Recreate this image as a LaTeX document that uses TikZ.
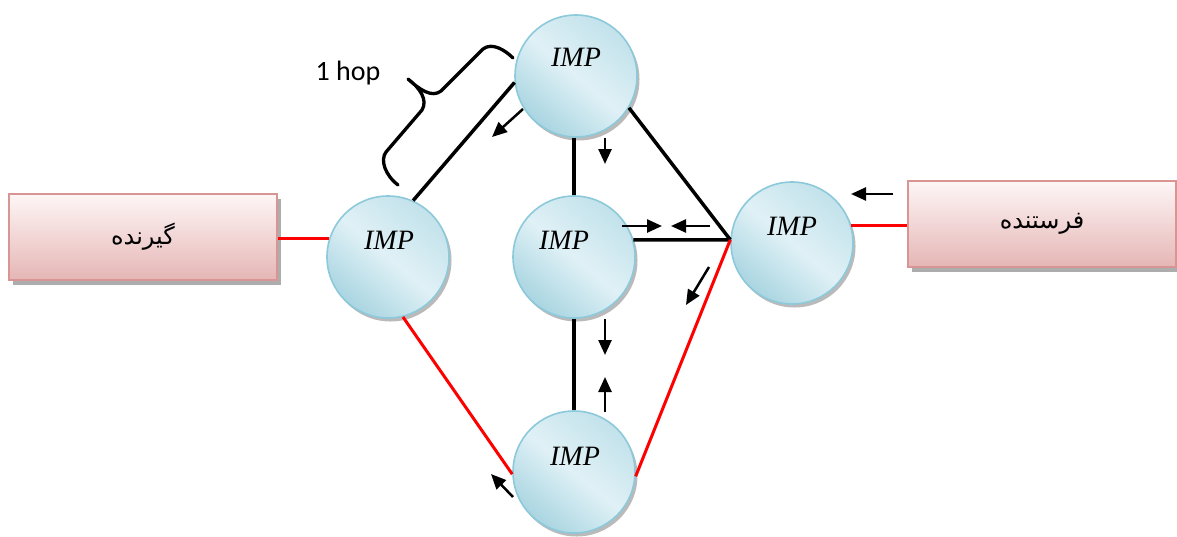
\documentclass[tikz,border=0pt]{standalone}
\usepackage{fontspec}
\newfontfamily\arabicfont[Script=Arabic]{DejaVu Sans}
\newfontfamily\hopfont{Carlito}
\newfontfamily\impfont{Liberation Serif}
\TeXXeTstate=1
\usetikzlibrary{shadows,arrows.meta}
\definecolor{cborder}{HTML}{8CC9DA}
\definecolor{clight}{HTML}{E0F1F6}
\definecolor{cdark}{HTML}{A9D5E1}
\definecolor{bborder}{HTML}{D89593}
\definecolor{btop}{HTML}{FEF6F6}
\definecolor{bbot}{HTML}{E5B6B5}
\definecolor{cred}{HTML}{FF0000}
\begin{document}
\begin{tikzpicture}[x=1pt,y=-1pt,
  imp/.style={circle, minimum size=122pt, inner sep=0pt, draw=cborder, line width=1.6pt,
    top color=cdark!55!clight, bottom color=cdark, middle color=clight, shading angle=-40,
    drop shadow={shadow xshift=2.5pt, shadow yshift=-3.5pt, fill=black!45, opacity=0.6}},
  implbl/.style={font=\impfont\itshape\fontsize{28}{30}\selectfont},
  boxst/.style={rectangle, draw=bborder, line width=1.6pt, minimum width=268pt, minimum height=86pt,
    top color=btop, bottom color=bbot,
    drop shadow={shadow xshift=4pt, shadow yshift=-5pt, fill=black!40, opacity=0.8}},
  blk/.style={line width=3.5pt, black},
  redl/.style={line width=3pt, cred},
  arr/.style={line width=2.5pt, -{Triangle[length=15pt,width=13pt]}}]
\useasboundingbox (0,0) rectangle (1177,536);

% boxes
\node[boxst] (lbox) at (143,237) {\arabicfont\fontsize{24}{28}\selectfont\beginR گیرنده\endR};
\node[boxst] (rbox) at (1042,224) {\arabicfont\fontsize{24}{28}\selectfont\beginR فرستنده\endR};

% circles
\node[imp] (top) at (576,76) {};
\node[imp] (left) at (388,257) {};
\node[imp] (mid) at (574,257) {};
\node[imp] (right) at (792,243) {};
\node[imp] (bot) at (574,472) {};

\node[implbl] (toplbl) at (576,57) {IMP};
\node[implbl] (leftlbl) at (389,240) {IMP};
\node[implbl] (midlbl) at (564,240) {IMP};
\node[implbl] (rightlbl) at (792,226) {IMP};
\node[implbl] (botlbl) at (575,456) {IMP};

% junction on the right circle
\coordinate (J) at (right.177);

% connectors
\draw[redl] (left.163) -- (left.163 -| lbox.east);
\draw[redl] (right.16) -- (right.16 -| rbox.west);
\draw[blk] (top.186) -- (left.66);
\draw[blk] (top.south -| mid.north) -- (mid.north);
\draw[blk] (top.-31) -- (J);
\draw[blk] (mid.16) -- (J);
\draw[redl] (J) -- (bot.-4);
\draw[blk] (mid.south) -- (bot.north);
\draw[redl] (left.-76) -- (bot.182);

% brace
\draw[line width=3.3pt, line join=round, line cap=round]
  (513,58) .. controls (505,50) and (492,42) .. (483,49) -- (441,91)
  .. controls (432,98) and (420,90) .. (408,79)
  .. controls (420,88) and (428,100) .. (422,110) -- (386,152)
  .. controls (380,160) and (385,175) .. (398,185);
\node[font=\hopfont\fontsize{28}{30}\selectfont] (hop) at (348,73) {1 hop};

% arrows
\draw[arr] (523,109) -- (492,137);
\draw[arr] (605,138) -- (605,164);
\draw[arr] (622,226) -- (662,226);
\draw[arr] (710,226) -- (671,226);
\draw[arr] (709,267) -- (686,305);
\draw[arr] (893,194) -- (851,194);
\draw[arr] (605,319) -- (605,355);
\draw[arr] (605,412) -- (605,377);
\draw[arr] (513,497) -- (491,474);
\end{tikzpicture}
\end{document}
